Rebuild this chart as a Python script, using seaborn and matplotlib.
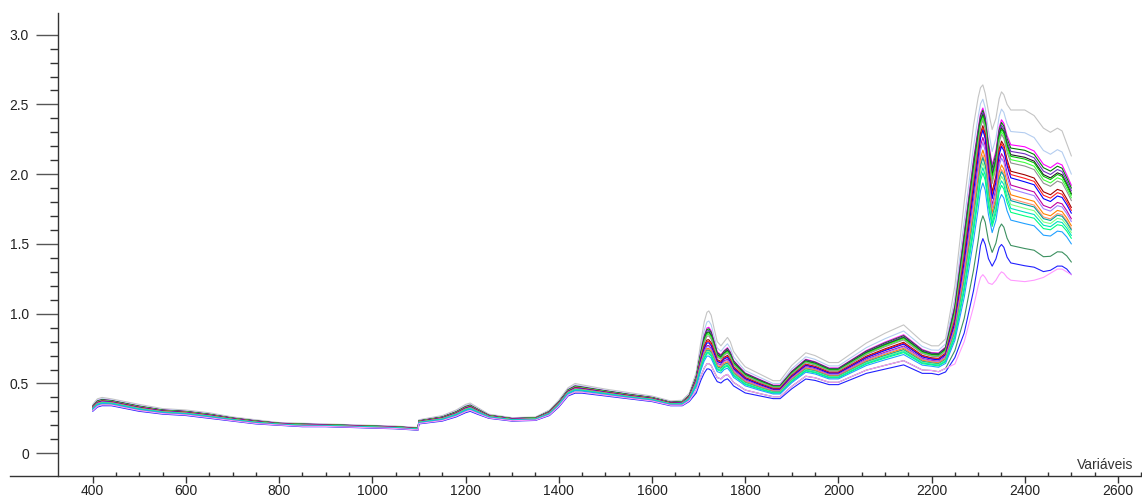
import numpy as np
import pandas as pd
import seaborn as sns
import matplotlib.pyplot as plt
from matplotlib.ticker import FixedLocator, FuncFormatter

# ---------------- data ----------------
wavelength = [400, 410, 420, 440, 470, 500, 550, 600, 650, 700,
              750, 800, 850, 900, 950, 1000, 1050, 1098, 1100, 1150,
              1180, 1200, 1210, 1225, 1250, 1300, 1350, 1380, 1400, 1420,
              1435, 1450, 1500, 1550, 1600, 1640, 1665, 1680, 1695, 1705,
              1712, 1718, 1722, 1727, 1733, 1740, 1748, 1755, 1762, 1768,
              1775, 1790, 1800, 1830, 1860, 1875, 1900, 1930, 1950, 1980,
              2000, 2030, 2060, 2100, 2140, 2160, 2180, 2200, 2215, 2230,
              2250, 2270, 2290, 2300, 2305, 2310, 2315, 2322, 2330, 2338,
              2345, 2350, 2355, 2362, 2370, 2400, 2420, 2440, 2455, 2470,
              2480, 2490, 2500]

# lowest spectrum of the set
low_env = [0.30, 0.33, 0.34, 0.34, 0.32, 0.30, 0.28, 0.27, 0.25, 0.23,
           0.21, 0.20, 0.19, 0.19, 0.185, 0.18, 0.175, 0.165, 0.21, 0.23,
           0.26, 0.29, 0.30, 0.28, 0.25, 0.23, 0.235, 0.27, 0.33, 0.41,
           0.43, 0.43, 0.41, 0.39, 0.37, 0.34, 0.34, 0.37, 0.43, 0.52,
           0.57, 0.60, 0.60, 0.59, 0.55, 0.51, 0.50, 0.52, 0.53, 0.51,
           0.48, 0.45, 0.43, 0.41, 0.39, 0.39, 0.46, 0.53, 0.52, 0.49,
           0.49, 0.53, 0.57, 0.60, 0.63, 0.60, 0.57, 0.57, 0.56, 0.58,
           0.68, 0.85, 1.15, 1.35, 1.47, 1.52, 1.48, 1.38, 1.33, 1.38,
           1.46, 1.48, 1.46, 1.39, 1.35, 1.33, 1.32, 1.29, 1.30, 1.33,
           1.33, 1.31, 1.27]

# median spectrum of the set
mid_env = [0.325, 0.36, 0.37, 0.365, 0.345, 0.325, 0.30, 0.29, 0.27, 0.245,
           0.225, 0.21, 0.203, 0.20, 0.195, 0.19, 0.185, 0.175, 0.225, 0.25,
           0.285, 0.32, 0.33, 0.305, 0.265, 0.243, 0.248, 0.29, 0.355, 0.44,
           0.465, 0.46, 0.435, 0.41, 0.39, 0.357, 0.36, 0.40, 0.52, 0.66,
           0.74, 0.78, 0.78, 0.76, 0.71, 0.65, 0.64, 0.67, 0.68, 0.65,
           0.60, 0.56, 0.53, 0.49, 0.455, 0.455, 0.545, 0.625, 0.61, 0.57,
           0.57, 0.625, 0.68, 0.73, 0.775, 0.73, 0.685, 0.67, 0.665, 0.70,
           0.92, 1.35, 1.85, 2.10, 2.24, 2.30, 2.24, 2.00, 1.80, 1.92,
           2.12, 2.18, 2.15, 2.04, 1.95, 1.92, 1.90, 1.80, 1.78, 1.82,
           1.81, 1.76, 1.70]

# highest spectrum of the set
high_env = [0.35, 0.39, 0.40, 0.39, 0.37, 0.35, 0.32, 0.31, 0.29, 0.26,
            0.24, 0.22, 0.215, 0.21, 0.205, 0.20, 0.195, 0.185, 0.24, 0.27,
            0.31, 0.35, 0.36, 0.33, 0.28, 0.255, 0.26, 0.31, 0.38, 0.47,
            0.50, 0.49, 0.46, 0.435, 0.41, 0.375, 0.38, 0.43, 0.58, 0.80,
            0.94, 1.01, 1.02, 0.99, 0.90, 0.80, 0.77, 0.80, 0.83, 0.80,
            0.73, 0.66, 0.62, 0.57, 0.52, 0.52, 0.63, 0.72, 0.70, 0.65,
            0.65, 0.72, 0.79, 0.86, 0.92, 0.86, 0.80, 0.77, 0.77, 0.82,
            1.20, 1.80, 2.35, 2.55, 2.62, 2.64, 2.58, 2.45, 2.32, 2.40,
            2.54, 2.59, 2.57, 2.50, 2.46, 2.46, 2.42, 2.33, 2.30, 2.33,
            2.31, 2.22, 2.13]

# value of each sample at 2500 nm (orders the bundle)
sample_level_2500 = [2.13, 2.00, 1.92, 1.90, 1.88, 1.86, 1.85, 1.83, 1.81,
                     1.76, 1.74, 1.72, 1.68, 1.66, 1.63, 1.61, 1.60, 1.58,
                     1.56, 1.54, 1.50, 1.37, 1.28]
sample_colors = ['#c4c4c4', '#b4cdf0', '#ff00ff', '#008000', '#7030c0',
                 '#202020', '#00c000', '#40ff40', '#909090', '#a00000',
                 '#ff2020', '#0000ff', '#c000a0', '#a080ff', '#ff8000',
                 '#ff9070', '#00a0a0', '#80ff80', '#00e0c0', '#00ff80',
                 '#20a0ff', '#3c9060', '#2020ff']

# one outlying sample (light pink) with flattened bands from 2250 nm on
outlier_level = 1.37
outlier_tail_start = 2250
outlier_tail = [0.64, 0.80, 1.05, 1.20, 1.26, 1.28, 1.26, 1.22, 1.21, 1.24,
                1.28, 1.30, 1.29, 1.26, 1.24, 1.23, 1.24, 1.26, 1.29, 1.32,
                1.32, 1.30, 1.28]
outlier_color = '#ff99ff'

# ---------------- build long table ----------------
wl = np.array(wavelength, dtype=float)
lo, md, hi = np.array(low_env), np.array(mid_env), np.array(high_env)


def spectrum_for(level):
    t = (level - lo[-1]) / (hi[-1] - lo[-1])
    if t <= 0.5:
        return lo + (t / 0.5) * (md - lo)
    return md + ((t - 0.5) / 0.5) * (hi - md)


rows = []
names, colors = [], []
for i, (lev, col) in enumerate(zip(sample_level_2500, sample_colors)):
    name = f"s{i:02d}"
    names.append(name); colors.append(col)
    for w, v in zip(wl, spectrum_for(lev)):
        rows.append((name, w, v))

outl = spectrum_for(outlier_level)
mask = wl >= outlier_tail_start
outl[mask] = outlier_tail
names.append("outlier"); colors.append(outlier_color)
for w, v in zip(wl, outl):
    rows.append(("outlier", w, v))

df = pd.DataFrame(rows, columns=["sample", "wavelength", "value"])

# ---------------- plot ----------------
sns.set_theme(style="white")
plt.rcParams['font.family'] = ['Liberation Sans', 'DejaVu Sans']

fig = plt.figure(figsize=(11.42, 4.97), dpi=100)
ax = fig.add_axes([10 / 1142, 1 - 476 / 497, 1132 / 1142, 462.7 / 497])

sns.lineplot(data=df, x="wavelength", y="value", hue="sample",
             hue_order=names, palette=dict(zip(names, colors)),
             estimator=None, sort=False, linewidth=0.8, legend=False, ax=ax)

ax.set_xlim(222.5, 2651.5)
ax.set_ylim(-0.163, 3.153)

for s in ["top", "right"]:
    ax.spines[s].set_visible(False)
ax.spines["left"].set_position(("data", 326))
ax.spines["left"].set_color("#333333")
ax.spines["bottom"].set_color("#333333")
ax.spines["left"].set_linewidth(1.0)
ax.spines["bottom"].set_linewidth(1.0)

ax.yaxis.set_major_locator(FixedLocator(np.arange(0, 3.01, 0.5)))
ax.yaxis.set_minor_locator(FixedLocator(np.arange(0, 3.01, 0.1)))
ax.yaxis.set_major_formatter(FuncFormatter(lambda v, p: "0" if abs(v) < 1e-9 else f"{v:.1f}"))
ax.xaxis.set_major_locator(FixedLocator(np.arange(400, 2601, 200)))
ax.xaxis.set_minor_locator(FixedLocator(np.arange(400, 2651, 50)))

ax.tick_params(axis="y", which="major", direction="out", length=16, width=1,
               color="#555555", labelsize=10, labelcolor="#222222", pad=5, left=True)
ax.tick_params(axis="y", which="minor", direction="out", length=6, width=1,
               color="#333333", left=True)
ax.tick_params(axis="x", which="major", direction="out", length=5, width=1,
               color="#333333", labelsize=10, labelcolor="#222222", pad=0.5, bottom=True)
ax.tick_params(axis="x", which="minor", direction="in", length=3, width=1,
               color="#333333", bottom=True)

ax.set_ylabel("")
ax.set_xlabel("Variáveis", fontsize=10, color="#333333")
ax.xaxis.label.set_va("center")
ax.xaxis.label.set_ha("center")
ax.xaxis.set_label_coords(0.967, 0.024)

fig.savefig("out.png", dpi=100, facecolor="white")
